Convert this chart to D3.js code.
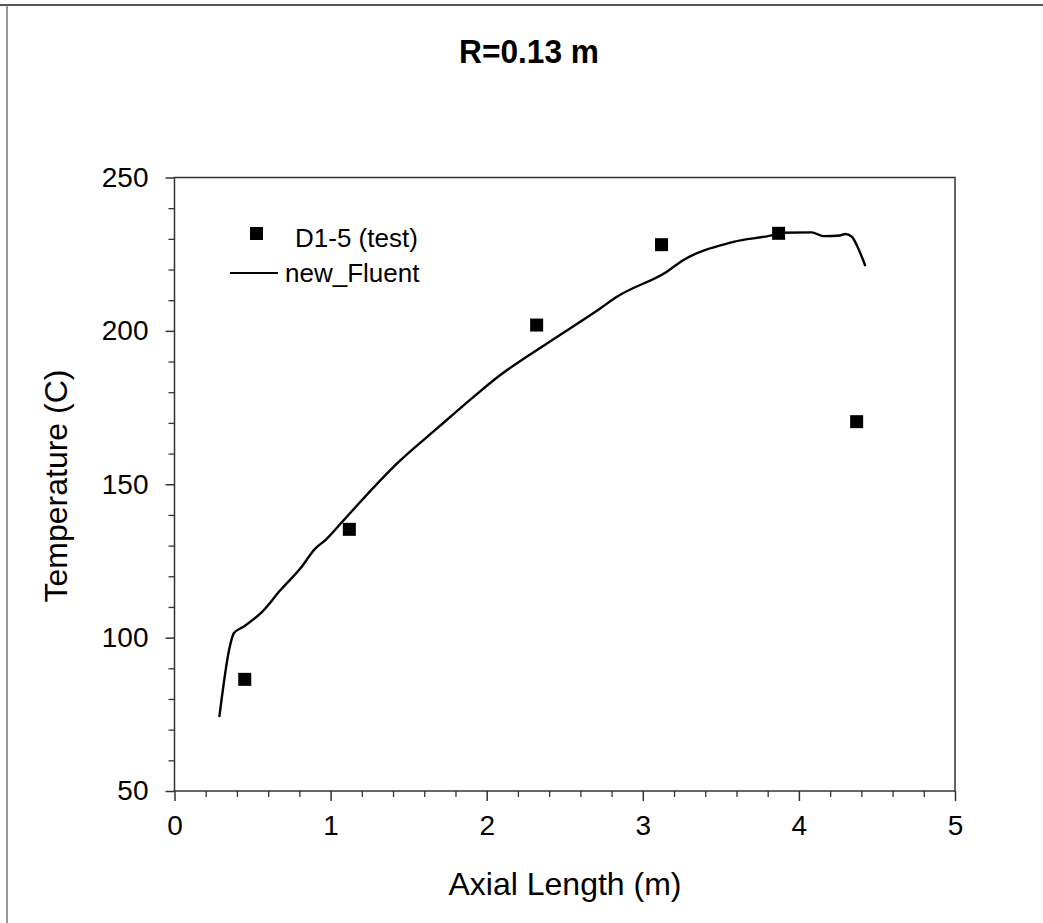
<!DOCTYPE html>
<html>
<head>
<meta charset="utf-8">
<script src="https://cdn.jsdelivr.net/npm/d3@7"></script>
<style>
  html, body { margin: 0; padding: 0; background: #fff; }
  svg { display: block; font-family: "Liberation Sans", Arial, sans-serif; }
</style>
</head>
<body>
<svg id="chart" width="1043" height="923"></svg>
<script>
// ---- data ----
const titleText = "R=0.13 m";
const xLabel = "Axial Length (m)";
const yLabel = "Temperature (C)";
const testName = "D1-5 (test)";
const fluentName = "new_Fluent";

const testX = [0.45, 1.12, 2.32, 3.12, 3.87, 4.37];
const testT = [86.4, 135.3, 201.9, 228.1, 231.8, 170.4];

const fluentX = [0.288, 0.354, 0.38, 0.444, 0.561, 0.679, 0.807, 0.903, 0.967, 1.084, 1.2,
  1.426, 1.682, 1.916, 2.087, 2.386, 2.727, 2.834, 3.154, 3.261, 3.581, 3.869, 3.88,
  4.082, 4.157, 4.264, 4.296, 4.339, 4.381, 4.424];
const fluentT = [74.4, 97.0, 101.4, 103.6, 108.4, 115.5, 122.6, 129.1, 131.8, 138.3, 144.8,
  156.8, 168.2, 178.5, 185.6, 195.9, 207.3, 211.1, 219.3, 223.1, 229.0, 231.8, 232.0,
  232.1, 230.9, 231.1, 231.6, 230.7, 226.8, 221.4];

const xTicks = [0, 1, 2, 3, 4, 5];
const yTicks = [50, 100, 150, 200, 250];

(function () {
// ---- layout ----
const svg = d3.select("#chart");
const pL = 174.5, pR = 955, pT = 177.5, pB = 791;
const x = d3.scaleLinear().domain([0, 5]).range([pL, pR]);
const y = d3.scaleLinear().domain([50, 250]).range([pB, pT]);
const axisColor = "#333";

// outer frame (partial, as in scan)
svg.append("line").attr("x1", 0).attr("x2", 1043).attr("y1", 5).attr("y2", 5)
  .attr("stroke", "#555").attr("stroke-width", 2);
svg.append("line").attr("x1", 7).attr("x2", 7).attr("y1", 5).attr("y2", 923)
  .attr("stroke", "#777").attr("stroke-width", 1.5);

// title
svg.append("text").attr("x", 529).attr("y", 63).attr("text-anchor", "middle")
  .attr("font-size", 33).attr("font-weight", "bold").attr("fill", "#000")
  .attr("textLength", 140).attr("lengthAdjust", "spacingAndGlyphs")
  .text(titleText);

// plot frame
svg.append("rect").attr("x", pL).attr("y", pT)
  .attr("width", pR - pL).attr("height", pB - pT)
  .attr("fill", "none").attr("stroke", axisColor).attr("stroke-width", 1.5);

// x axis
const xMinor = d3.range(0, 5.0001, 0.2).filter(v => Math.abs(v - Math.round(v)) > 1e-6);
const xAxis = d3.axisBottom(x).tickValues(xTicks).tickFormat(d3.format("d"))
  .tickSize(10).tickPadding(14).tickSizeOuter(0);
const gx = svg.append("g").attr("transform", `translate(0,${pB})`).call(xAxis);
gx.select(".domain").remove();
gx.selectAll(".tick line").attr("stroke", axisColor).attr("stroke-width", 1.5);
gx.selectAll(".tick text").attr("font-size", 28).attr("fill", "#000");
const gxm = svg.append("g").attr("transform", `translate(0,${pB})`)
  .call(d3.axisBottom(x).tickValues(xMinor).tickSize(6).tickFormat(""));
gxm.select(".domain").remove();
gxm.selectAll(".tick line").attr("stroke", axisColor).attr("stroke-width", 1.3);

// y axis
const yMinor = d3.range(50, 250.001, 10).filter(v => v % 50 !== 0);
const yAxis = d3.axisLeft(y).tickValues(yTicks).tickFormat(d3.format("d"))
  .tickSize(9).tickPadding(17).tickSizeOuter(0);
const gy = svg.append("g").attr("transform", `translate(${pL},0)`).call(yAxis);
gy.select(".domain").remove();
gy.selectAll(".tick line").attr("stroke", axisColor).attr("stroke-width", 1.5);
gy.selectAll(".tick text").attr("font-size", 28).attr("fill", "#000");
const gym = svg.append("g").attr("transform", `translate(${pL},0)`)
  .call(d3.axisLeft(y).tickValues(yMinor).tickSize(6).tickFormat(""));
gym.select(".domain").remove();
gym.selectAll(".tick line").attr("stroke", axisColor).attr("stroke-width", 1.3);

// axis titles
svg.append("text").attr("x", 565).attr("y", 895).attr("text-anchor", "middle")
  .attr("font-size", 32).attr("fill", "#000").text(xLabel);
svg.append("text").attr("transform", `translate(67,486) rotate(-90)`)
  .attr("text-anchor", "middle").attr("font-size", 32).attr("fill", "#000").text(yLabel);

// fluent curve
const fluent = fluentX.map((v, i) => [v, fluentT[i]]);
svg.append("path").datum(fluent)
  .attr("d", d3.line().x(d => x(d[0])).y(d => y(d[1])).curve(d3.curveMonotoneX))
  .attr("fill", "none").attr("stroke", "#000").attr("stroke-width", 2.4)
  .attr("stroke-linejoin", "round").attr("stroke-linecap", "round");

// test markers
const ms = 13;
svg.append("g").selectAll("rect").data(testX.map((v, i) => [v, testT[i]])).join("rect")
  .attr("x", d => x(d[0]) - ms / 2).attr("y", d => y(d[1]) - ms / 2)
  .attr("width", ms).attr("height", ms).attr("fill", "#000");

// legend
const lg = svg.append("g");
lg.append("rect").attr("x", 250).attr("y", 227).attr("width", 13).attr("height", 13).attr("fill", "#000");
lg.append("text").attr("x", 295).attr("y", 247).attr("font-size", 26).attr("fill", "#000").text(testName);
lg.append("line").attr("x1", 230).attr("x2", 278).attr("y1", 273).attr("y2", 273)
  .attr("stroke", "#000").attr("stroke-width", 2);
lg.append("text").attr("x", 285).attr("y", 282).attr("font-size", 26).attr("fill", "#000").text(fluentName);
})();
</script>
</body>
</html>
